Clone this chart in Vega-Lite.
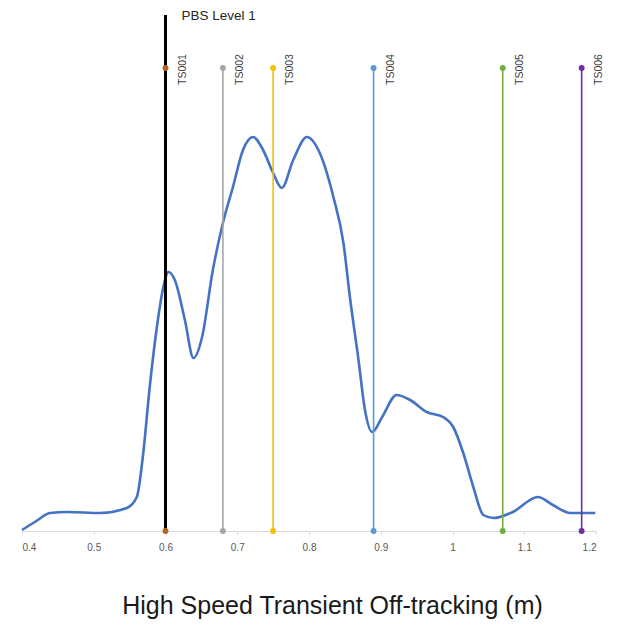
{
  "$schema": "https://vega.github.io/schema/vega-lite/v6.json",
  "autosize": "none",
  "width": 574,
  "height": 516,
  "padding": {"left": 22, "top": 15, "right": 27, "bottom": 97},
  "background": "white",
  "config": {"view": {"stroke": null}, "font": "Liberation Sans"},
  "datasets": {
    "curve": [
      {"x": 0.400, "d": 0.01}, {"x": 0.420, "d": 0.10}, {"x": 0.439, "d": 0.18}, {"x": 0.463, "d": 0.19},
      {"x": 0.509, "d": 0.18}, {"x": 0.546, "d": 0.23}, {"x": 0.560, "d": 0.34}, {"x": 0.569, "d": 0.78},
      {"x": 0.578, "d": 1.44}, {"x": 0.588, "d": 2.04}, {"x": 0.597, "d": 2.44}, {"x": 0.604, "d": 2.59},
      {"x": 0.613, "d": 2.51}, {"x": 0.627, "d": 2.11}, {"x": 0.639, "d": 1.73}, {"x": 0.651, "d": 1.94},
      {"x": 0.666, "d": 2.61}, {"x": 0.680, "d": 3.08}, {"x": 0.694, "d": 3.44}, {"x": 0.708, "d": 3.81},
      {"x": 0.722, "d": 3.94}, {"x": 0.736, "d": 3.81}, {"x": 0.750, "d": 3.58}, {"x": 0.762, "d": 3.43},
      {"x": 0.778, "d": 3.71}, {"x": 0.797, "d": 3.94}, {"x": 0.815, "d": 3.78}, {"x": 0.834, "d": 3.34},
      {"x": 0.848, "d": 2.88}, {"x": 0.857, "d": 2.34}, {"x": 0.869, "d": 1.71}, {"x": 0.878, "d": 1.21},
      {"x": 0.888, "d": 0.99}, {"x": 0.902, "d": 1.14}, {"x": 0.922, "d": 1.36}, {"x": 0.941, "d": 1.31},
      {"x": 0.964, "d": 1.19}, {"x": 0.987, "d": 1.14}, {"x": 1.001, "d": 1.04}, {"x": 1.015, "d": 0.78},
      {"x": 1.029, "d": 0.44}, {"x": 1.043, "d": 0.16}, {"x": 1.057, "d": 0.13}, {"x": 1.084, "d": 0.19},
      {"x": 1.119, "d": 0.34}, {"x": 1.140, "d": 0.26}, {"x": 1.164, "d": 0.18}, {"x": 1.199, "d": 0.18}
    ],
    "markers": [
      {"name": "TS001", "x": 0.60},
      {"name": "TS002", "x": 0.68},
      {"name": "TS003", "x": 0.75},
      {"name": "TS004", "x": 0.89},
      {"name": "TS005", "x": 1.07},
      {"name": "TS006", "x": 1.18}
    ],
    "pbs": [
      {"name": "PBS Level 1", "x": 0.60}
    ]
  },
  "encoding": {
    "x": {
      "field": "x",
      "type": "quantitative",
      "scale": {"domain": [0.4, 1.2], "nice": false, "zero": false},
      "axis": {
        "title": "High Speed Transient Off-tracking (m)",
        "values": [0.4, 0.5, 0.6, 0.7, 0.8, 0.9, 1, 1.1, 1.2],
        "format": "~g",
        "grid": false,
        "domainColor": "#d9d9d9",
        "tickColor": "#d9d9d9",
        "tickSize": 3,
        "labelFontSize": 10,
        "labelColor": "#595959",
        "labelPadding": 8,
        "titleFontSize": 25,
        "titleFontWeight": "normal",
        "titleColor": "#1a1a1a",
        "titlePadding": 41,
        "titleX": 310
      }
    }
  },
  "layer": [
    {
      "data": {"name": "curve"},
      "mark": {"type": "line", "interpolate": "monotone", "color": "#4472c4", "strokeWidth": 2.6},
      "encoding": {
        "y": {"field": "d", "type": "quantitative", "axis": null, "scale": {"domain": [0, 5.16], "nice": false}}
      }
    },
    {
      "data": {"name": "markers"},
      "mark": {"type": "rule", "strokeWidth": 1.6},
      "encoding": {
        "y": {"datum": 4.63},
        "y2": {"datum": 0},
        "color": {
          "field": "name",
          "type": "nominal",
          "legend": null,
          "scale": {
            "domain": ["TS001", "TS002", "TS003", "TS004", "TS005", "TS006"],
            "range": ["#b5651d", "#a6a6a6", "#f4c000", "#5b9bd5", "#70ad47", "#7030a0"]
          }
        }
      }
    },
    {
      "data": {"name": "pbs"},
      "mark": {"type": "rule", "strokeWidth": 3, "color": "#000000"},
      "encoding": {
        "y": {"datum": 5.16},
        "y2": {"datum": 0}
      }
    },
    {
      "data": {"name": "markers"},
      "mark": {"type": "point", "filled": true, "size": 35, "opacity": 1},
      "encoding": {
        "y": {"datum": 4.63},
        "color": {"field": "name", "type": "nominal", "legend": null}
      }
    },
    {
      "data": {"name": "markers"},
      "mark": {"type": "point", "filled": true, "size": 35, "opacity": 1},
      "encoding": {
        "y": {"datum": 0},
        "color": {"field": "name", "type": "nominal", "legend": null}
      }
    },
    {
      "data": {"name": "markers"},
      "mark": {"type": "text", "angle": 270, "align": "left", "baseline": "middle", "dy": 17, "fontSize": 10.5, "color": "#404040"},
      "encoding": {
        "y": {"datum": 4.46},
        "text": {"field": "name"}
      }
    },
    {
      "data": {"name": "pbs"},
      "mark": {"type": "text", "align": "left", "baseline": "middle", "dx": 16, "dy": 1, "fontSize": 13.5, "color": "#262626"},
      "encoding": {
        "y": {"datum": 5.16},
        "text": {"field": "name"}
      }
    }
  ]
}
